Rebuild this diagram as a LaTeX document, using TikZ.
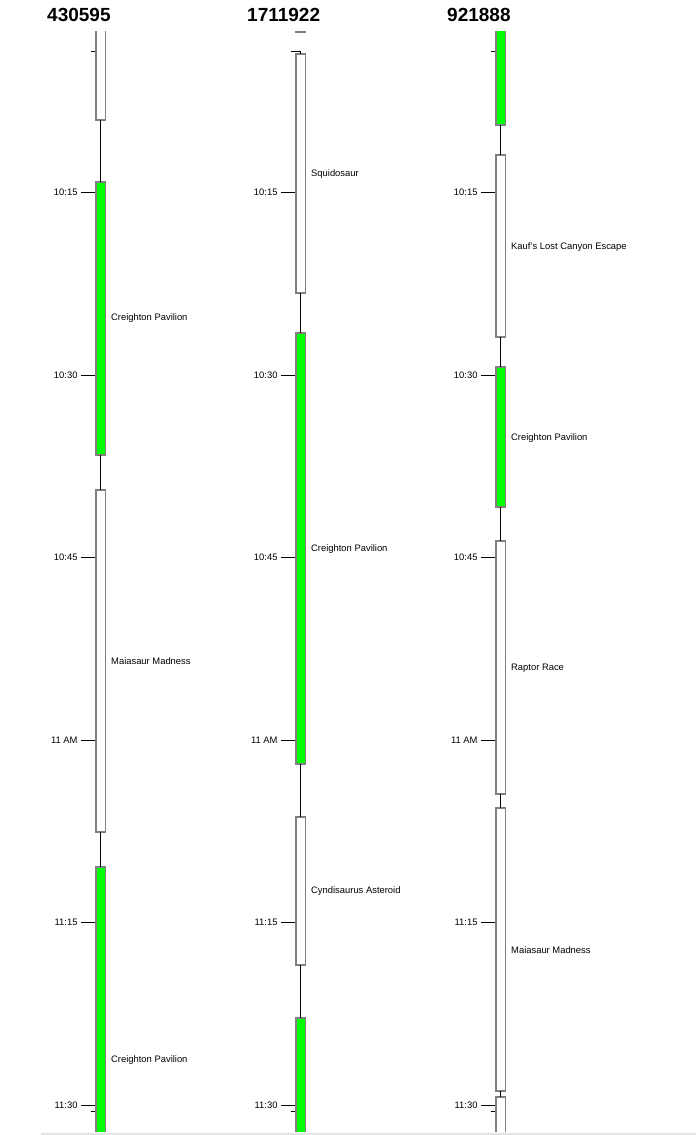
\documentclass[tikz,border=0pt]{standalone}
\usepackage{fontspec}
\setmainfont{Liberation Sans}
\definecolor{boxgray}{HTML}{808080}
\definecolor{evgreen}{HTML}{00FF00}
\definecolor{linegray}{HTML}{E3E3E3}
\begin{document}
\begin{tikzpicture}[x=1pt,y=-1pt,
  ev/.style={draw=boxgray, line width=1.6pt, minimum width=9.4pt, inner sep=0pt, outer sep=0pt, anchor=north},
  free/.style={ev, fill=white},
  busy/.style={ev, fill=evgreen},
  lbl/.style={anchor=west, font=\fontsize{9.4}{11}\selectfont, inner sep=0pt},
  tlbl/.style={anchor=east, font=\fontsize{9.4}{11}\selectfont, inner sep=0pt},
  conn/.style={draw=black, line width=0.8pt},
  tickline/.style={draw=black, line width=0.8pt},
  coltitle/.style={anchor=base west, font=\fontsize{19}{22}\selectfont\bfseries, inner sep=0pt}]
\useasboundingbox (0,0) rectangle (696,1135);

% titles
\node[coltitle] (h1) at (47,21) {430595};
\node[coltitle] (h2) at (247,21) {1711922};
\node[coltitle] (h3) at (447,21) {921888};

\begin{scope}
\clip (0,31) rectangle (696,1131);
% ticks
\foreach \c/\ax in {1/100.7,2/300.7,3/500.7}{
  \foreach \i/\y/\t in {1/192.5/10:15,2/375/10:30,3/557.5/10:45,4/740/11 AM,5/922.5/11:15,6/1105/11:30}{
    \draw[tickline] (\ax-20,\y) -- (\ax-5.5,\y);
    \node[tlbl] (t\c\i) at (\ax-23,\y) {\t};
  }
  \draw[tickline] (\ax-10,1111.5) -- (\ax-5.5,1111.5);
}
\draw[tickline] (90.7,51) -- (95.2,51);
\draw[tickline] (490.7,51) -- (495.2,51);
\coordinate (m2) at (300.7,51);
\draw[tickline] (290.7,51) -- (m2);

% column 1
\node[free, minimum height=140pt] (c1a) at (100.7,-20) {};
\node[busy, minimum height=273.3pt] (c1b) at (100.7,181.7) {};
\node[free, minimum height=342pt] (c1c) at (100.7,490) {};
\node[busy, minimum height=393pt] (c1d) at (100.7,867) {};
\draw[conn] (c1a.south) -- (c1b.north);
\draw[conn] (c1b.south) -- (c1c.north);
\draw[conn] (c1c.south) -- (c1d.north);
\node[lbl] (l1b) at (111,318) {Creighton Pavilion};
\node[lbl] (l1c) at (111,661) {Maiasaur Madness};
\node[lbl] (l1d) at (111,1060) {Creighton Pavilion};

% column 2
\node[free, minimum height=51.7pt] (c2a) at (300.7,-20) {};
\node[free, minimum height=239pt] (c2b) at (300.7,54) {};
\node[busy, minimum height=431pt] (c2c) at (300.7,333) {};
\node[free, minimum height=148pt] (c2d) at (300.7,817) {};
\node[busy, minimum height=232pt] (c2e) at (300.7,1018) {};
\draw[conn] (m2) -- (c2b.north);
\draw[conn] (c2b.south) -- (c2c.north);
\draw[conn] (c2c.south) -- (c2d.north);
\draw[conn] (c2d.south) -- (c2e.north);
\node[lbl] (l2b) at (311,174) {Squidosaur};
\node[lbl] (l2c) at (311,549) {Creighton Pavilion};
\node[lbl] (l2d) at (311,891) {Cyndisaurus Asteroid};

% column 3
\node[busy, minimum height=145pt] (c3a) at (500.7,-20) {};
\node[free, minimum height=182pt] (c3b) at (500.7,155) {};
\node[busy, minimum height=140pt] (c3c) at (500.7,367) {};
\node[free, minimum height=253pt] (c3d) at (500.7,541) {};
\node[free, minimum height=282.7pt] (c3e) at (500.7,808) {};
\node[free, minimum height=153pt] (c3f) at (500.7,1097) {};
\draw[conn] (c3a.south) -- (c3b.north);
\draw[conn] (c3b.south) -- (c3c.north);
\draw[conn] (c3c.south) -- (c3d.north);
\draw[conn] (c3d.south) -- (c3e.north);
\draw[conn] (c3e.south) -- (c3f.north);
\node[lbl] (l3b) at (511,247) {Kauf's Lost Canyon Escape};
\node[lbl] (l3c) at (511,438) {Creighton Pavilion};
\node[lbl] (l3d) at (511,668) {Raptor Race};
\node[lbl] (l3e) at (511,950) {Maiasaur Madness};
\end{scope}

\coordinate (b0) at (41,1134);
\coordinate (b1) at (696,1134);
\draw[draw=linegray, line width=1.2pt] (b0) -- (b1);
\end{tikzpicture}
\end{document}
